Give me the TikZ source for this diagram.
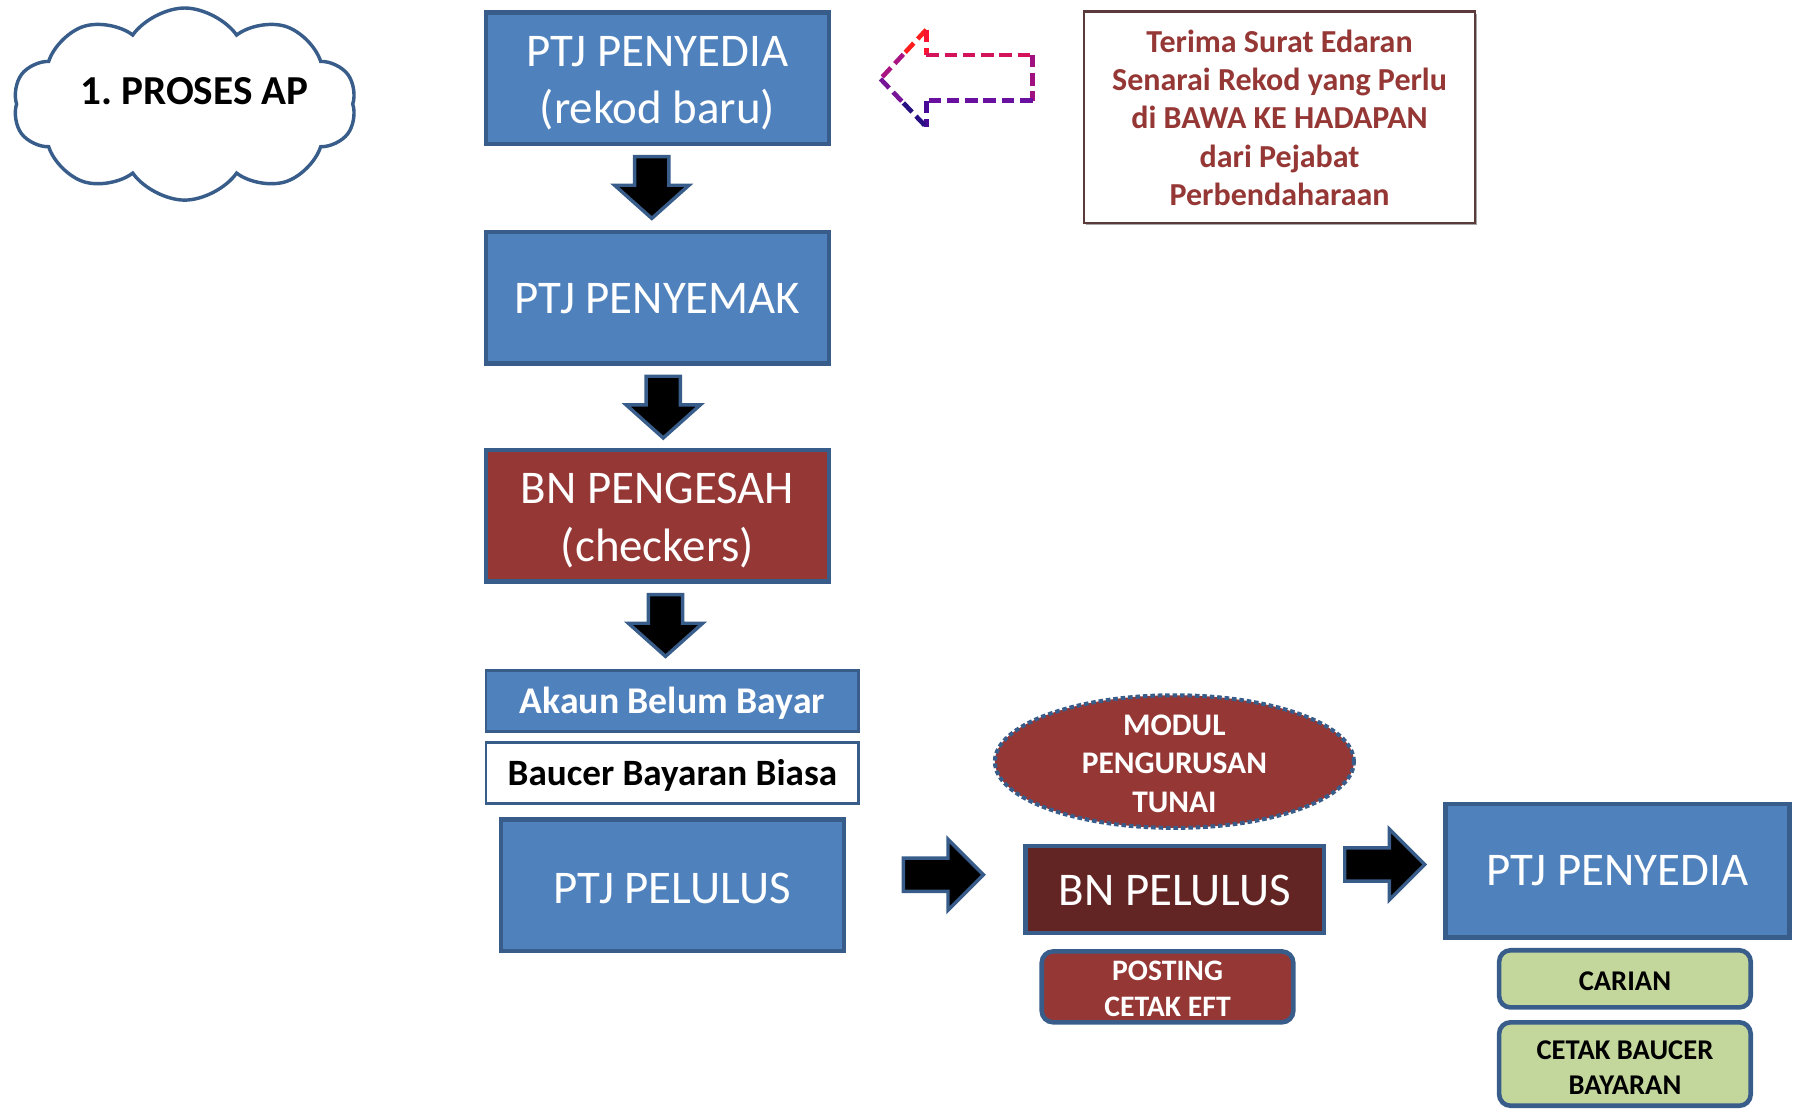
\documentclass[tikz,border=0pt]{standalone}
\usepackage{fontspec}
\setmainfont{Carlito}
\usetikzlibrary{shapes.symbols,shapes.geometric,calc,shadows}
\definecolor{bfill}{HTML}{4F81BD}
\definecolor{bline}{HTML}{385D8A}
\definecolor{rfill}{HTML}{953735}
\definecolor{dfill}{HTML}{632523}
\definecolor{gfill}{HTML}{C3D69B}
\definecolor{rtext}{HTML}{953735}
\definecolor{tbline}{HTML}{5A3A3A}
\newcommand{\lowr}[2]{\raisebox{-#1}[\height][\depth]{\begin{tabular}{@{}c@{}}#2\end{tabular}}}
\tikzset{
  bigbox/.style={draw=bline, line width=4pt, fill=bfill, text=white, minimum width=300pt,
    minimum height=115pt, inner sep=0pt, font=\fontsize{41}{50}\selectfont},
  redbox/.style={bigbox, fill=rfill},
  thinbox/.style={draw=bline, line width=2.5pt, minimum width=326pt, minimum height=54pt,
    inner sep=0pt, font=\bfseries\fontsize{33}{38}\selectfont},
  pill/.style={draw=bline, line width=4pt, rounded corners=10pt, minimum width=220pt,
    inner sep=0pt, font=\bfseries\fontsize{25}{31}\selectfont},
  dashline/.style={line width=4pt, dash pattern=on 11pt off 5pt},
  darr/.pic={\draw[bline, line width=3pt, fill=black, line join=miter]
    (-15,0) -- (15,0) -- (15,25) -- (32.5,25) -- (0,54) -- (-32.5,25) -- (-15,25) -- cycle;},
  rarr/.pic={\draw[bline, line width=3pt, fill=black, line join=miter]
    (0,-14.5) -- (39,-14.5) -- (39,-31) -- (70,0) -- (39,31) -- (39,14.5) -- (0,14.5) -- cycle;}
}
\begin{document}
\begin{tikzpicture}[x=1pt,y=-1pt]
\useasboundingbox (0,0) rectangle (1568,970);
% cloud
\node[cloud, cloud puffs=10, cloud puff arc=110, aspect=1.77, draw=bline, line width=3pt,
  fill=white, minimum width=300pt, minimum height=168pt, inner sep=0pt] (cloud) at (161.5,91) {};
\node[font=\bfseries\fontsize{36}{43}\selectfont] (title) at (170,80) {1.\ PROSES AP};
% left column
\node[bigbox] (b1) at (575,68.5) {\lowr{4.5pt}{PTJ PENYEDIA\\(rekod baru)}};
\node[bigbox] (b2) at (575,260.5) {\lowr{4pt}{PTJ PENYEMAK}};
\node[redbox, font=\fontsize{41}{50.5}\selectfont] (b3) at (575,451) {\lowr{4.5pt}{BN PENGESAH\\(checkers)}};
\node[thinbox, fill=bfill, text=white] (akaun) at (588,613) {\lowr{3.5pt}{Akaun Belum Bayar}};
\node[thinbox, fill=white, text=black, font=\bfseries\fontsize{32.5}{38}\selectfont] (baucer) at (588,676) {\lowr{3pt}{Baucer Bayaran Biasa}};
\node[bigbox] (pelulus) at (588,774) {\lowr{6pt}{PTJ PELULUS}};
% down arrows
\pic at (570,137) {darr};
\pic at (580,329) {darr};
\pic at (582,520) {darr};
% middle
\node[ellipse, draw=bline, line width=3.5pt, dash pattern=on 4pt off 2.5pt, fill=rfill,
  minimum width=314pt, minimum height=116pt, inner sep=0pt, inner ysep=-25pt, text=white,
  font=\bfseries\fontsize{27.5}{33.5}\selectfont] (modul) at (1027,666) {\lowr{4pt}{MODUL\\PENGURUSAN\\TUNAI}};
\node[bigbox, fill=dfill, minimum width=261pt, minimum height=76pt] (bnpel) at (1027.5,778) {\lowr{4pt}{BN PELULUS}};
\node[pill, fill=rfill, text=white, minimum height=62pt, font=\bfseries\fontsize{26}{31}\selectfont] (posting) at (1021,863) {\lowr{4pt}{POSTING\\CETAK EFT}};
% right
\node[bigbox, minimum width=301pt, minimum height=117pt] (pen2) at (1414.5,761.5) {\lowr{3pt}{PTJ PENYEDIA}};
\node[pill, fill=gfill, text=black, minimum height=50pt] (carian) at (1421,856) {\lowr{4pt}{CARIAN}};
\node[pill, fill=gfill, text=black, minimum height=73pt] (cetak) at (1421,930.5) {\lowr{5pt}{CETAK BAUCER\\BAYARAN}};
% right arrows
\pic at (790,765) {rarr};
\pic at (1176,756) {rarr};
% text box
\node[draw=tbline, line width=2pt, fill=white, minimum width=342pt, minimum height=185pt,
  inner sep=0pt, text=rtext, font=\bfseries\fontsize{28}{33.5}\selectfont,
  drop shadow={shadow xshift=2pt, shadow yshift=-2pt, fill=black!70}] (note) at (1119,102.5)
  {\lowr{3.5pt}{Terima Surat Edaran\\Senarai Rekod yang Perlu\\di BAWA KE HADAPAN\\dari Pejabat\\Perbendaharaan}};
% dashed hollow arrow
\coordinate (tip) at (770,69);
\coordinate (hu) at (810,26);
\coordinate (nu) at (810,48);
\coordinate (ru) at (903,48);
\coordinate (rl) at (903,88);
\coordinate (nl) at (810,88);
\coordinate (hl) at (810,111);
\draw[dashline, color={rgb,255:red,255;green,30;blue,30}] (hu) -- ($(hu)!0.5!(tip)$);
\draw[dashline, color={rgb,255:red,170;green,20;blue,130}] ($(hu)!0.5!(tip)$) -- (tip);
\draw[dashline, color={rgb,255:red,250;green,20;blue,50}] (hu) -- (nu);
\draw[dashline, color={rgb,255:red,212;green,20;blue,90}] (nu) -- (ru);
\draw[dashline, color={rgb,255:red,160;green,16;blue,128}] (ru) -- (rl);
\draw[dashline, color={rgb,255:red,106;green,16;blue,160}] (rl) -- (nl);
\draw[dashline, color={rgb,255:red,70;green,10;blue,150}] (nl) -- (hl);
\draw[dashline, color={rgb,255:red,120;green,20;blue,150}] (tip) -- ($(tip)!0.5!(hl)$);
\draw[dashline, color={rgb,255:red,40;green,16;blue,130}] ($(tip)!0.5!(hl)$) -- (hl);
\end{tikzpicture}
\end{document}
